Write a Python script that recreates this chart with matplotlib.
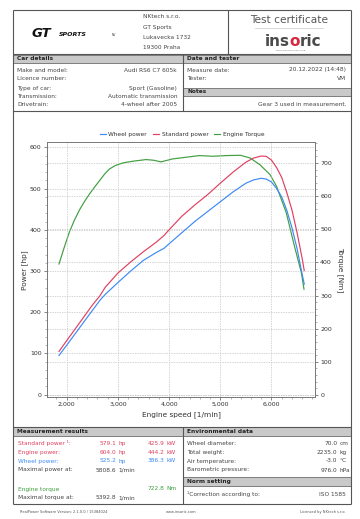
import matplotlib
matplotlib.use("Agg")
import matplotlib.pyplot as plt
from matplotlib.patches import Rectangle
from matplotlib.ticker import MultipleLocator, FuncFormatter

plt.rcParams['font.family'] = ['DejaVu Sans']

# --- curve data ---
power_rpm = [1850, 2000, 2250, 2500, 2650, 2750, 3000, 3250, 3500, 3750, 3900, 4000,
             4250, 4500, 4750, 5000, 5250, 5500, 5650, 5800, 5900, 6000, 6100, 6200,
             6300, 6400, 6500, 6600, 6640]
wheel_power = [95, 120, 162, 204, 229, 243, 272, 300, 326, 345, 355, 366,
               393, 420, 444, 468, 492, 513, 521, 525, 523, 516, 500, 480,
               447, 405, 354, 292, 268]
standard_power = [105, 131, 174, 217, 240, 260, 295, 322, 347, 370, 386, 400,
                  433, 460, 485, 513, 540, 564, 574, 579, 578, 569, 551, 527,
                  490, 448, 393, 330, 301]

torque_rpm = [1850, 1950, 2050, 2150, 2250, 2350, 2450, 2550, 2650, 2750, 2840, 2950,
              3100, 3290, 3550, 3700, 3840, 4070, 4330, 4590, 4850, 5120, 5390, 5580,
              5770, 5970, 6100, 6290, 6450, 6585, 6635]
engine_torque = [395, 444, 490, 527, 558, 584, 607, 628, 648, 668, 682, 692,
                 700, 705, 710, 708, 703, 712, 717, 722, 720, 722, 723, 715,
                 695, 665, 629, 549, 448, 368, 319]

series_names = ["Wheel power", "Standard power", "Engine Torque"]
x_ticks = [2000, 3000, 4000, 5000, 6000]
power_ticks = [0, 100, 200, 300, 400, 500, 600]
torque_ticks = [0, 100, 200, 300, 400, 500, 600, 700]

# --- certificate texts ---
company_lines = ["NKtech s.r.o.", "GT Sports", "Lukavecka 1732", "19300 Praha"]
car_labels = ["Make and model:", "Licence number:", "Type of car:", "Transmission:", "Drivetrain:"]
car_values = ["Audi RS6 C7 605k", "", "Sport (Gasoline)", "Automatic transmission", "4-wheel after 2005"]
tester_labels = ["Measure date:", "Tester:"]
tester_values = ["20.12.2022 (14:48)", "VM"]
note_text = "Gear 3 used in measurement."

result_labels = ["Standard power \u00b9:", "Engine power:", "Wheel power:", "Maximal power at:"]
result_hp = ["579.1", "604.0", "525.2", "5808.6"]
result_hp_unit = ["hp", "hp", "hp", "1/min"]
result_kw = ["425.9", "444.2", "386.3", ""]
torque_labels = ["Engine torque", "Maximal torque at:"]
torque_values = [("", "", "722.8", "Nm"), ("5392.8", "1/min", "", "")]

env_labels = ["Wheel diameter:", "Total weight:", "Air temperature:", "Barometric pressure:"]
env_values = ["70.0", "2235.0", "-3.0", "976.0"]
env_units = ["cm", "kg", "\u00b0C", "hPa"]

BLUE = "#3d8af7"
RED = "#e0405e"
GREEN = "#3f9e3f"
TXT = "#444444"
EDGE = "#555555"
BAND = "#c9c9c9"
FS = 4.2

fig = plt.figure(figsize=(3.6, 5.19), dpi=100)

# page drawn in pixel coordinates
bg = fig.add_axes([0, 0, 1, 1])
bg.set_xlim(0, 360)
bg.set_ylim(519, 0)
bg.axis('off')


def hline(y, x0=12.7, x1=350.7, lw=0.8):
    bg.plot([x0, x1], [y, y], color=EDGE, lw=lw, solid_capstyle='butt')


def vline(x, y0, y1, lw=0.8):
    bg.plot([x, x], [y0, y1], color=EDGE, lw=lw, solid_capstyle='butt')


def band(x0, x1, y0, y1, title, tx):
    bg.add_patch(Rectangle((x0, y0), x1 - x0, y1 - y0, facecolor=BAND,
                           edgecolor=EDGE, lw=0.5))
    bg.text(tx, (y0 + y1) / 2, title, fontsize=FS, fontweight='bold',
            color='#222222', va='center', ha='left')


# outer frame and section lines
vline(12.7, 10, 504.3)
vline(350.7, 10, 504.3)
hline(10)
hline(53.5)
hline(111)
hline(426.5)
hline(504.3)
vline(228.3, 10, 53.5)
vline(182.7, 53.5, 111)
vline(182.7, 426.5, 504.3)

# header
bg.text(32, 33.5, "GT", fontsize=9.5, fontweight='bold', style='italic',
        color='#111111', va='center', ha='left')
bg.text(59, 34.5, "SPORTS", fontsize=4.5, fontweight='bold', style='italic',
        color='#111111', va='center', ha='left')
bg.text(112, 34.5, "NV", fontsize=2.2, color='#333333', va='center', ha='left')
for i, line in enumerate(company_lines):
    bg.text(142.7, 16.7 + i * 10.3, line, fontsize=FS, color=TXT, va='center', ha='left')
bg.text(289, 20, "Test certificate", fontsize=7.6, color='#555555', va='center', ha='center')
bg.plot([255, 323], [28, 28], color='#bbbbbb', lw=0.4)
bg.text(289.5, 41.5, "ins", fontsize=11, fontweight='bold', color='#4a4a4a', va='center', ha='right')
bg.text(294.8, 41.5, "o", fontsize=11, fontweight='bold', color='#d6283f', va='center', ha='center')
bg.text(300, 41.5, "ric", fontsize=11, fontweight='bold', color='#4a4a4a', va='center', ha='left')
bg.text(291, 50, "swiss precision measuring", fontsize=1.6, color='#777777',
        va='center', ha='center')

# car details / date and tester / notes
band(12.7, 182.7, 54.5, 63, "Car details", 17)
band(182.7, 350.7, 54.5, 63, "Date and tester", 187)
band(182.7, 350.7, 87.5, 96, "Notes", 187)
car_y = [70, 78, 88.3, 96.7, 105]
for lab, val, y in zip(car_labels, car_values, car_y):
    bg.text(17, y, lab, fontsize=FS, color=TXT, va='center', ha='left')
    if val:
        bg.text(177, y, val, fontsize=FS, color=TXT, va='center', ha='right')
for i, (lab, val) in enumerate(zip(tester_labels, tester_values)):
    bg.text(187, 70 + i * 8, lab, fontsize=FS, color=TXT, va='center', ha='left')
    bg.text(346, 70 + i * 8, val, fontsize=FS, color=TXT, va='center', ha='right')
bg.text(346, 104, note_text, fontsize=FS, color=TXT, va='center', ha='right')

# --- chart ---
ax = fig.add_axes([46.7 / 360, 1 - 397 / 519, (315 - 46.7) / 360, (397 - 142) / 519])
ax2 = ax.twinx()
ax.set_zorder(ax2.get_zorder() + 1)
ax.patch.set_visible(False)

l1, = ax.plot(power_rpm, wheel_power, color=BLUE, lw=0.85)
l2, = ax.plot(power_rpm, standard_power, color=RED, lw=0.85)
l3, = ax2.plot(torque_rpm, engine_torque, color=GREEN, lw=0.85)

ax.set_xlim(1610, 6850)
ax.set_ylim(-5.6, 613)
ax2.set_ylim(-6, 763)
ax.set_xticks(x_ticks)
ax.set_yticks(power_ticks)
ax2.set_yticks(torque_ticks)
ax.xaxis.set_major_formatter(FuncFormatter(lambda v, p: f"{int(v):,}"))
ax.xaxis.set_minor_locator(MultipleLocator(200))
ax.yaxis.set_minor_locator(MultipleLocator(20))
ax2.yaxis.set_minor_locator(MultipleLocator(20))

for a in (ax, ax2):
    a.tick_params(which='major', labelsize=4.5, length=2.2, width=0.5,
                  color='#555555', labelcolor='#333333', pad=1.5)
    a.tick_params(which='minor', length=1.2, width=0.4, color='#777777')
    for s in a.spines.values():
        s.set_color('#777777')
        s.set_linewidth(0.6)
ax.grid(True, which='major', ls=(0, (2, 1.5)), color='#c4c4c4', lw=0.5)
ax2.grid(True, which='major', axis='y', ls=(0, (2, 1.5)), color='#c4c4c4', lw=0.5)

bg.text(25, 270, "Power [hp]", fontsize=5.3, color='#333333', rotation=90,
        va='center', ha='center')
bg.text(340, 270, "Torque [Nm]", fontsize=5.3, color='#333333', rotation=270,
        va='center', ha='center')
bg.text(181, 414.5, "Engine speed [1/min]", fontsize=5.3, color='#333333',
        va='center', ha='center')

fig.legend([l1, l2, l3], series_names, loc='center',
           bbox_to_anchor=(182 / 360, 1 - 134 / 519), ncol=3, frameon=False,
           fontsize=4.2, handlelength=1.1, handletextpad=0.4, columnspacing=1.0,
           labelcolor='#333333')

# --- measurement results ---
band(12.7, 182.7, 427, 435.5, "Measurement results", 17)
band(182.7, 350.7, 427, 435.5, "Environmental data", 187)
band(182.7, 350.7, 477, 485.5, "Norm setting", 187)

res_colors = [RED, RED, BLUE, TXT]
res_y = [443.3, 452.3, 461, 470]
for lab, hp, hpu, kw, c, y in zip(result_labels, result_hp, result_hp_unit,
                                  result_kw, res_colors, res_y):
    bg.text(18.3, y, lab, fontsize=FS, color=c, va='center', ha='left')
    bg.text(116, y, hp, fontsize=FS, color=c, va='center', ha='right')
    bg.text(118.5, y, hpu, fontsize=FS, color=c, va='center', ha='left')
    if kw:
        bg.text(164.3, y, kw, fontsize=FS, color=c, va='center', ha='right')
        bg.text(166.5, y, "kW", fontsize=FS, color=c, va='center', ha='left')

tq_colors = [GREEN, TXT]
for lab, (v1, u1, v2, u2), c, y in zip(torque_labels, torque_values, tq_colors, [489, 497.7]):
    bg.text(18.3, y, lab, fontsize=FS, color=c, va='center', ha='left')
    if v1:
        bg.text(116, y, v1, fontsize=FS, color=c, va='center', ha='right')
        bg.text(118.5, y, u1, fontsize=FS, color=c, va='center', ha='left')
    if v2:
        bg.text(164.3, y, v2, fontsize=FS, color=c, va='center', ha='right')
        bg.text(166.5, y, u2, fontsize=FS, color=c, va='center', ha='left')

for i, (lab, val, unit) in enumerate(zip(env_labels, env_values, env_units)):
    y = res_y[i]
    bg.text(187, y, lab, fontsize=FS, color=TXT, va='center', ha='left')
    bg.text(337.5, y, val, fontsize=FS, color=TXT, va='center', ha='right')
    bg.text(339.5, y, unit, fontsize=FS, color=TXT, va='center', ha='left')
bg.text(187, 494.3, "\u00b9Correction according to:", fontsize=FS, color=TXT,
        va='center', ha='left')
bg.text(346, 494.3, "ISO 1585", fontsize=FS, color=TXT, va='center', ha='right')

# footer
bg.text(20, 511.7, "RealPower Software Version: 2.1.0.0 / 15384024", fontsize=2.6,
        color='#555555', va='center', ha='left')
bg.text(181, 511.7, "www.insoric.com", fontsize=2.6, color='#555555',
        va='center', ha='center')
bg.text(346, 511.7, "Licensed by NKtech s.r.o.", fontsize=2.6, color='#555555',
        va='center', ha='right')

fig.savefig("out.png", dpi=100, facecolor='white')
